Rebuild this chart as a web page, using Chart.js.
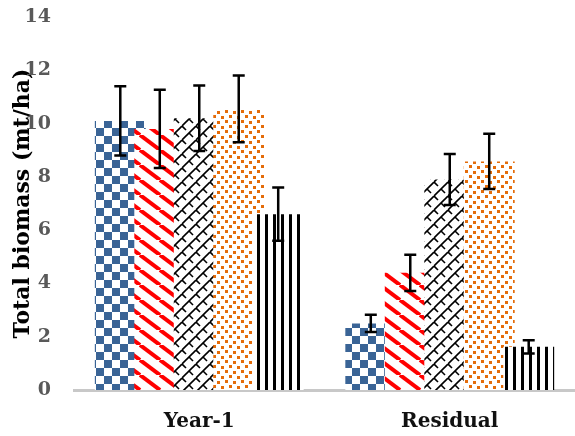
<!DOCTYPE html>
<html>
<head>
<meta charset="utf-8">
<title>Total biomass</title>
<script src="https://cdn.jsdelivr.net/npm/chart.js@4.4.1/dist/chart.umd.min.js"></script>
<style>
  html, body { margin: 0; padding: 0; background: #ffffff; }
  #wrap { width: 575px; height: 436px; }
</style>
</head>
<body>
<div id="wrap"><canvas id="chart" width="575" height="436"></canvas></div>
<script>
// Harvest periods on the x axis
const categories = ['Year-1', 'Residual'];

// Mean total biomass (mt/ha) for the five treatments
const treatmentA = [10.1, 2.5];
const treatmentB = [9.8, 4.4];
const treatmentC = [10.2, 7.9];
const treatmentD = [10.55, 8.58];
const treatmentE = [6.6, 1.62];

// Error bar half-lengths (mt/ha)
const errorA = [1.3, 0.32];
const errorB = [1.47, 0.68];
const errorC = [1.23, 0.96];
const errorD = [1.25, 1.04];
const errorE = [1.0, 0.25];

// Y axis ticks
const yTicks = [0, 2, 4, 6, 8, 10, 12, 14];

// --- fill patterns --------------------------------------------------------
function makeTile(w, h, draw) {
  const c = document.createElement('canvas');
  c.width = w; c.height = h;
  const g = c.getContext('2d');
  g.fillStyle = '#ffffff';
  g.fillRect(0, 0, w, h);
  draw(g, w, h);
  return document.getElementById('chart').getContext('2d').createPattern(c, 'repeat');
}

// blue checkerboard
const checkerFill = makeTile(16, 16, (g) => {
  g.fillStyle = '#3a6496';
  g.fillRect(0, 0, 8, 8);
  g.fillRect(8, 8, 8, 8);
});

// red downward diagonal stripes
const stripeFill = makeTile(20, 15, (g, w, h) => {
  g.strokeStyle = '#ff0000';
  g.lineWidth = 4;
  for (let k = -1; k <= 1; k++) {
    g.beginPath();
    g.moveTo(k * w, 0);
    g.lineTo(k * w + w, h);
    g.stroke();
  }
});

// black weave / zigzag
const weaveFill = makeTile(14, 14, (g, w, h) => {
  g.strokeStyle = '#000000';
  g.lineWidth = 1.6;
  for (let k = -1; k <= 1; k++) {
    g.beginPath();
    g.moveTo(k * w, h);
    g.lineTo(k * w + w, 0);
    g.stroke();
  }
  g.beginPath();
  g.moveTo(7, 7);
  g.lineTo(11, 11);
  g.stroke();
  g.beginPath();
  g.moveTo(0, 0);
  g.lineTo(4, 4);
  g.stroke();
});

// orange confetti
const confettiFill = makeTile(16, 10, (g) => {
  g.fillStyle = '#e46c0a';
  [[1, 0], [9, 1], [5, 5], [13, 6]].forEach(([x, y]) => g.fillRect(x, y, 3, 3));
});

// black vertical lines
const verticalFill = makeTile(8, 4, (g) => {
  g.fillStyle = '#000000';
  g.fillRect(1, 0, 3, 4);
});

// --- drawing order + error bars ------------------------------------------
// Bars overlap inside a group; paint series in index order so each later
// series sits on top of the one to its left, then add the error bars.
let paintingInOrder = false;
const overlapAndErrorPlugin = {
  id: 'overlapAndErrors',
  beforeDatasetDraw() {
    if (!paintingInOrder) return false;
  },
  afterDatasetsDraw(chart) {
    const { ctx, scales: { y } } = chart;
    paintingInOrder = true;
    chart.data.datasets.forEach((ds, i) => {
      chart.getDatasetMeta(i).controller.draw();
    });
    paintingInOrder = false;

    ctx.save();
    ctx.strokeStyle = '#000000';
    ctx.lineWidth = 2.5;
    chart.data.datasets.forEach((ds, i) => {
      const meta = chart.getDatasetMeta(i);
      meta.data.forEach((bar, j) => {
        const v = ds.data[j];
        const e = ds.errors[j];
        const x = bar.x;
        const top = y.getPixelForValue(v + e);
        const bot = y.getPixelForValue(v - e);
        const cap = 6;
        ctx.beginPath();
        ctx.moveTo(x, top);
        ctx.lineTo(x, bot);
        ctx.moveTo(x - cap, top);
        ctx.lineTo(x + cap, top);
        ctx.moveTo(x - cap, bot);
        ctx.lineTo(x + cap, bot);
        ctx.stroke();
      });
    });
    ctx.restore();
  }
};

const seriesValues = [treatmentA, treatmentB, treatmentC, treatmentD, treatmentE];
const seriesErrors = [errorA, errorB, errorC, errorD, errorE];
const seriesFills = [checkerFill, stripeFill, weaveFill, confettiFill, verticalFill];

const datasets = seriesValues.map((vals, i) => ({
  label: 'Treatment ' + String.fromCharCode(65 + i),
  data: vals,
  errors: seriesErrors[i],
  backgroundColor: seriesFills[i],
  borderWidth: 0,
  categoryPercentage: 0.788,
  barPercentage: 1.29
}));

const serif = 'DejaVu Serif';

new Chart(document.getElementById('chart'), {
  type: 'bar',
  data: { labels: categories, datasets },
  plugins: [overlapAndErrorPlugin],
  options: {
    responsive: false,
    animation: false,
    devicePixelRatio: 1,
    layout: { padding: { top: 17, right: 0, bottom: 0, left: 0 } },
    plugins: {
      legend: { display: false },
      tooltip: { enabled: false }
    },
    scales: {
      x: {
        grid: { display: false, drawTicks: false },
        border: { display: true, color: '#c8c8c8', width: 3 },
        ticks: {
          color: '#111111',
          padding: 20,
          font: { family: serif, size: 20, weight: 'bold' }
        },
        afterFit(scale) {
          scale.height = 46;
          scale.paddingLeft = 0;
          scale.paddingRight = 0;
        }
      },
      y: {
        min: 0,
        max: 14,
        afterBuildTicks(scale) { scale.ticks = yTicks.map(v => ({ value: v })); },
        grid: { display: false, drawTicks: false },
        border: { display: false },
        ticks: {
          color: '#595959',
          padding: 23,
          font: { family: serif, size: 19, weight: 'bold' }
        },
        title: {
          display: true,
          text: 'Total biomass (mt/ha)',
          color: '#000000',
          padding: { top: 10, bottom: 0 },
          font: { family: serif, size: 22, weight: 'bold' }
        },
        afterFit(scale) {
          scale.width = 74;
          scale.paddingTop = 0;
          scale.paddingBottom = 0;
        }
      }
    }
  }
});
</script>
</body>
</html>
